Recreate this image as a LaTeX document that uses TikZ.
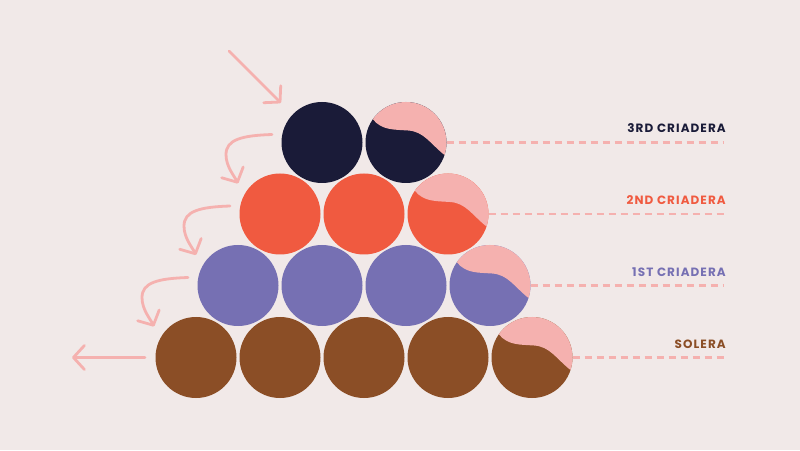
\documentclass[tikz,border=0pt]{standalone}
\usepackage{fontspec}
\newfontfamily\tierfont{Poppins}[LetterSpace=9]
\usetikzlibrary{arrows.meta, positioning}
\definecolor{backdrop}{HTML}{F1E9E8}
\definecolor{crthree}{HTML}{1A1B38}
\definecolor{crtwo}{HTML}{F05A40}
\definecolor{crone}{HTML}{7670B3}
\definecolor{solera}{HTML}{8B4E26}
\definecolor{blush}{HTML}{F5B1AF}
\tikzset{
    % Cask style
    cask/.style={
        circle,
        minimum size=81pt,
        inner sep=0pt,
        fill=#1
    },
    % Tier label style
    tier label/.style={
        font=\tierfont\bfseries\fontsize{12}{14}\selectfont,
        text=#1,
        anchor=base east,
        inner sep=0pt
    },
    % Dashed leader style
    leader/.style={
        blush,
        line width=2.1pt,
        dash pattern=on 7pt off 5pt
    },
    % Arrow style
    pour/.style={
        -{Straight Barb[length=11pt, width=24pt, round]},
        blush,
        line width=2.8pt,
        line cap=round
    }
}
\begin{document}
\begin{tikzpicture}[x=1pt, y=1pt]

        \fill[backdrop] (0,0) rectangle (800,450);
        \useasboundingbox (0,0) rectangle (800,450);

        % Solera
        \foreach \i in {1,...,5} {
            \node[cask=solera] (sol\i) at ({112 + \i * 84}, 92.5) {};
        }
        % 1st criadera
        \foreach \i in {1,...,4} {
            \node[cask=crone] (one\i) at ({154 + \i * 84}, 164.5) {};
        }
        % 2nd criadera
        \foreach \i in {1,...,3} {
            \node[cask=crtwo] (two\i) at ({196 + \i * 84}, 236) {};
        }
        % 3rd criadera
        \foreach \i in {1,2} {
            \node[cask=crthree] (three\i) at ({238 + \i * 84}, 307.5) {};
        }

        % Fresh wine on the last cask of each row
        \foreach \n in {sol5, one4, two3, three2} {
            \begin{scope}[shift={(\n.center)}]
                \fill[blush] (145:40.5) .. controls (-24,12) and (-12,13) .. (2,12)
                    .. controls (18,11) and (24,-1) .. (-18:40.5)
                    arc[start angle=-18, end angle=145, radius=40.5] -- cycle;
            \end{scope}
        }

        % Labels
        \node[tier label=crthree] (lthree) at (726, 317) {3RD CRIADERA};
        \node[tier label=crtwo] (ltwo) at (726, 245) {2ND CRIADERA};
        \node[tier label=crone] (lone) at (726, 173.5) {1ST CRIADERA};
        \node[tier label=solera] (lsol) at (726, 101.5) {SOLERA};

        \draw[leader] (three2.east) -- ([xshift=-2pt]three2.east -| lthree.east);
        \draw[leader] (two3.east) -- ([xshift=-2pt]two3.east -| ltwo.east);
        \draw[leader] (one4.east) -- ([xshift=-2pt]one4.east -| lone.east);
        \draw[leader] (sol5.east) -- ([xshift=-2pt]sol5.east -| lsol.east);

        % Arrows
        \draw[pour] ([shift={(-93,91.5)}]three1.center) -- ([shift={(-41,39.5)}]three1.center);
        \foreach \n in {three1, two1, one1} {
            \draw[pour] ([shift={(-50,8)}]\n.center) .. controls +(-30,-1) and +(0,15) .. ++(-46,-20)
                .. controls +(0,-12) and +(-4,8) .. ++(12,-29);
        }
        \draw[pour] ([shift={(-51,0)}]sol1.center) -- ([shift={(-124,0)}]sol1.center);

\end{tikzpicture}
\end{document}
